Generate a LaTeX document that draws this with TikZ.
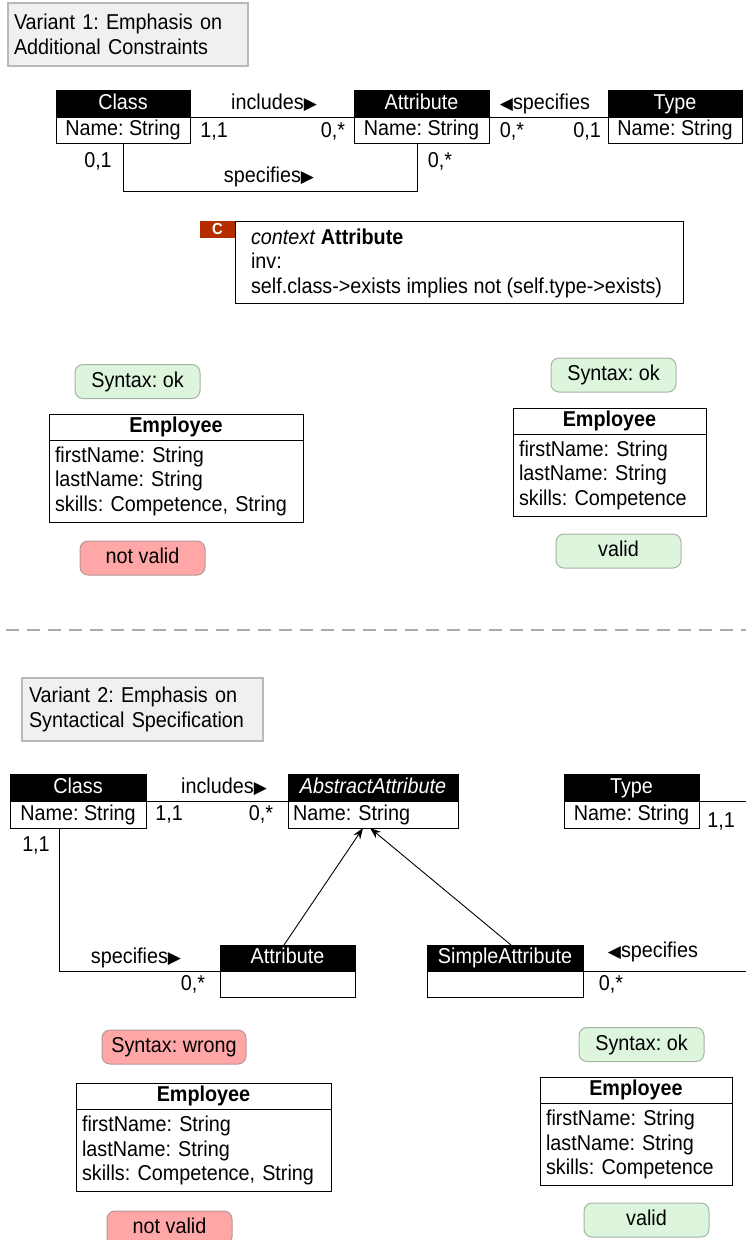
\documentclass[tikz,border=0pt]{standalone}
\usepackage{fontspec}
\setmainfont{Liberation Sans}[FakeStretch=0.92]
\newfontfamily\symfont{DejaVu Sans}
\usetikzlibrary{arrows.meta}
\definecolor{okfill}{RGB}{221,245,221}
\definecolor{okline}{RGB}{165,180,165}
\definecolor{badfill}{RGB}{255,166,166}
\definecolor{badline}{RGB}{185,150,150}
\definecolor{ttlfill}{RGB}{240,240,240}
\definecolor{ttlline}{RGB}{185,185,185}
\definecolor{ctab}{RGB}{180,45,0}
\definecolor{dashgray}{RGB}{170,170,170}
\newcommand{\rtri}{{\symfont\fontsize{17}{17}\selectfont\raisebox{0pt}{▶}}}
\newcommand{\ltri}{{\symfont\fontsize{17}{17}\selectfont\raisebox{0pt}{◀}}}
\frenchspacing
\begin{document}
\begin{tikzpicture}[x=1pt,y=-1pt,
  every node/.style={font=\fontsize{21.5}{24.5}\selectfont, inner sep=0pt, outer sep=0pt},
  oneline/.style={text height=15.5pt, text depth=4.5pt},
  lbl/.style={oneline},
  hdr/.style={oneline, draw=black, fill=black, text=white, minimum height=27pt, line width=1pt},
  hdrs/.style={hdr, minimum height=26pt},
  rowbox/.style={oneline, draw=black, fill=white, minimum height=26pt, line width=1pt},
  empbody/.style={draw=black, fill=white, line width=1pt, minimum height=82pt, align=left},
  emphead/.style={oneline, draw=black, fill=white, line width=1pt, minimum height=26pt, font=\fontsize{21.5}{24.5}\selectfont\bfseries},
  ttl/.style={draw=ttlline, fill=ttlfill, line width=1.5pt, minimum height=63pt, align=left},
  okbox/.style={oneline, draw=okline, fill=okfill, rounded corners=8pt, line width=1pt, minimum width=125pt, minimum height=34pt},
  badbox/.style={oneline, draw=badline, fill=badfill, rounded corners=8pt, line width=1pt, minimum width=125pt, minimum height=34pt},
  conn/.style={line width=0.9pt, black},
  genarrow/.style={conn, -{Stealth[length=11pt,width=8pt]}}
]
\useasboundingbox (0,0) rectangle (746,1240);

% ---------------- Variant 1 ----------------
\node[ttl, minimum width=240pt, text width=228pt] (title1) at (128,34.5) {Variant 1: Emphasis on\\Additional Constraints};

\node[hdr, minimum width=134pt] (clsh) at (123,103.5) {Class};
\node[rowbox, minimum width=134pt] (clsb) at (123,130) {Name: String};
\node[hdr, minimum width=135pt] (attrh) at (421.5,103.5) {Attribute};
\node[rowbox, minimum width=135pt] (attrb) at (421.5,130) {Name: String};
\node[hdr, minimum width=134pt] (typeh) at (675,103.5) {Type};
\node[rowbox, minimum width=134pt] (typeb) at (675,130) {Name: String};

\draw[conn] (clsh.south east) -- (attrh.south west);
\draw[conn] (attrh.south east) -- (typeh.south west);
\draw[conn] (clsb.south) -- ++(0,48) -| ([xshift=-4pt]attrb.south);

\node[lbl] (l1) at (274,104) {includes\rtri};
\node[lbl] (l2) at (214,132) {1,1};
\node[lbl] (l3) at (333,132) {0,*};
\node[lbl] (l4) at (545,104) {\ltri specifies};
\node[lbl] (l5) at (512,132) {0,*};
\node[lbl] (l6) at (587,132) {0,1};
\node[lbl] (l7) at (98,162) {0,1};
\node[lbl] (l8) at (440,162) {0,*};
\node[lbl] (l9) at (269,177) {specifies\rtri};

\node[draw=black, fill=white, line width=1pt, minimum width=448pt, minimum height=82pt] (ocl) at (459,262) {};
\node[anchor=west, align=left] (ocltext) at ([xshift=16pt,yshift=-1pt]ocl.west)
  {\textit{context} \textbf{Attribute}\\inv:\\self.class->exists implies not (self.type->exists)};
\node[fill=ctab, text=white, minimum width=35pt, minimum height=17pt, text height=11pt, text depth=1pt, font=\fontsize{16}{16}\selectfont\bfseries] (ctag) at (217.5,229.5) {C};

\node[okbox] (s1) at (137.5,381.5) {Syntax: ok};
\node[emphead, minimum width=254pt] (e1h) at (176,427) {Employee};
\node[empbody, minimum width=254pt, text width=242pt] (e1b) at (176,481) {firstName: String\\lastName: String\\skills: Competence, String};
\node[badbox] (v1) at (142.5,558) {not valid};

\node[okbox] (s2) at (613.5,375) {Syntax: ok};
\node[emphead, minimum width=193pt] (e2h) at (609.5,421) {Employee};
\node[empbody, minimum width=193pt, text width=181pt] (e2b) at (609.5,475) {firstName: String\\lastName: String\\skills: Competence};
\node[okbox] (v2) at (618.5,551) {valid};

% separator
\coordinate (dl) at (6,630);
\coordinate (dr) at (746,630);
\draw[dashgray, line width=1.5pt, dash pattern=on 13pt off 8pt] (dl) -- (dr);

% ---------------- Variant 2 ----------------
\node[ttl, minimum width=241pt, text width=227pt] (title2) at (142.5,709.5) {Variant 2: Emphasis on\\Syntactical Specification};

\node[hdr, minimum width=136pt] (c2h) at (78,787.5) {Class};
\node[rowbox, minimum width=136pt, minimum height=27pt] (c2b) at (78,814.5) {Name: String};
\node[hdr, minimum width=170pt] (absh) at (373,787.5) {\itshape AbstractAttribute};
\node[rowbox, minimum width=170pt, minimum height=27pt, text width=160pt, align=left] (absb) at (373,814.5) {Name: String};
\node[hdr, minimum width=135pt] (t2h) at (631.5,787.5) {Type};
\node[rowbox, minimum width=135pt, minimum height=27pt] (t2b) at (631.5,814.5) {Name: String};

\node[hdrs, minimum width=135pt] (at2h) at (287.5,958) {Attribute};
\node[rowbox, minimum width=135pt] (at2b) at (287.5,984) {};
\node[hdrs, minimum width=156pt] (sah) at (505,958) {SimpleAttribute};
\node[rowbox, minimum width=156pt] (sab) at (505,984) {};

\coordinate (edge1) at (746,801);
\coordinate (edge2) at (746,971);
\draw[conn] (c2h.south east) -- (absh.south west);
\draw[conn] (t2h.south east) -- (edge1);
\draw[conn] ([xshift=-19pt]c2b.south) |- (at2h.south west);
\draw[conn] (sah.south east) -- (edge2);
\draw[genarrow] ([xshift=-3.5pt]at2h.north) -- ([xshift=-10pt]absb.south);
\draw[genarrow] ([xshift=6pt]sah.north) -- ([xshift=-3pt]absb.south);

\node[lbl] (m1) at (224,788) {includes\rtri};
\node[lbl] (m2) at (169,815) {1,1};
\node[lbl] (m3) at (261,815) {0,*};
\node[lbl] (m4) at (36,846) {1,1};
\node[lbl] (m5) at (136,958) {specifies\rtri};
\node[lbl] (m6) at (193,985) {0,*};
\node[lbl] (m7) at (653,952) {\ltri specifies};
\node[lbl] (m8) at (611,985) {0,*};
\node[lbl] (m9) at (721,822) {1,1};

\node[badbox, minimum width=144pt] (s3) at (174,1047) {Syntax: wrong};
\node[emphead, minimum width=255pt] (e3h) at (203.5,1096) {Employee};
\node[empbody, minimum width=255pt, text width=243pt] (e3b) at (203.5,1150.5) {firstName: String\\lastName: String\\skills: Competence, String};
\node[badbox] (v3) at (169.5,1228) {not valid};

\node[okbox] (s4) at (641.5,1044.5) {Syntax: ok};
\node[emphead, minimum width=192pt] (e4h) at (636,1090) {Employee};
\node[empbody, minimum width=192pt, text width=180pt] (e4b) at (636,1144.5) {firstName: String\\lastName: String\\skills: Competence};
\node[okbox] (v4) at (646.5,1220) {valid};
\end{tikzpicture}
\end{document}
